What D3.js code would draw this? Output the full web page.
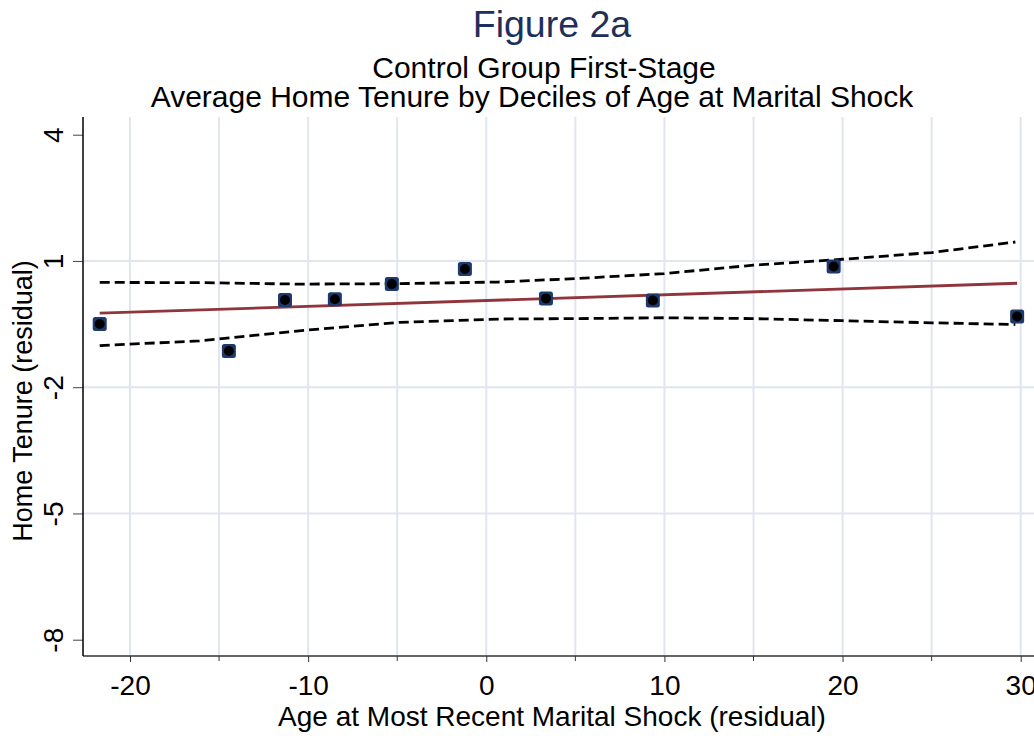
<!DOCTYPE html>
<html>
<head>
<meta charset="utf-8">
<script src="https://cdn.jsdelivr.net/npm/d3@7"></script>
<style>
  body { margin: 0; background: #fff; }
  svg { display: block; font-family: "Liberation Sans", Arial, sans-serif; }
</style>
</head>
<body>
<svg id="chart"></svg>
<script>
// decile bin means
let binX = [-21.7, -14.45, -11.3, -8.5, -5.3, -1.2, 3.35, 9.35, 19.5, 29.8];
let binY = [-0.5, -1.14, 0.07, 0.09, 0.45, 0.81, 0.11, 0.06, 0.87, -0.32];

// linear fit endpoints
let fitX = [-21.7, 29.8];
let fitY = [-0.24, 0.47];

// confidence band
let ciX = [-21.7, -16.1, -10.5, -4.9, 0.7, 5, 10, 15, 20, 25, 29.7];
let ciUpper = [0.49, 0.485, 0.45, 0.46, 0.5, 0.58, 0.70, 0.90, 1.04, 1.20, 1.45];
let ciLower = [-1.01, -0.90, -0.66, -0.46, -0.38, -0.37, -0.35, -0.37, -0.42, -0.47, -0.51];

let xTicks = [-20, -10, 0, 10, 20, 30];
let xMinor = [-15, -5, 5, 15, 25];
let yTicks = [4, 1, -2, -5, -8];
let yGrid = [1, -2, -5];

let width = 1034, height = 736;
let svg = d3.select("#chart").attr("width", width).attr("height", height);

let plotLeft = 83, plotTop = 117, plotBottom = 656;

let x = d3.scaleLinear().domain([-20, 30]).range([130, 1020.7]);
let y = d3.scaleLinear().domain([4, -8]).range([134.7, 639.7]);

// plain hyphen minus like Stata
let fmt = d => String(d);

// gridlines
svg.append("g")
  .selectAll("line")
  .data(xTicks.concat(xMinor))
  .enter().append("line")
  .attr("x1", d => x(d)).attr("x2", d => x(d))
  .attr("y1", plotTop).attr("y2", plotBottom)
  .attr("stroke", "#e1e5ef")
  .attr("stroke-width", 2);

svg.append("g")
  .selectAll("line")
  .data(yGrid)
  .enter().append("line")
  .attr("x1", plotLeft).attr("x2", width)
  .attr("y1", d => y(d)).attr("y2", d => y(d))
  .attr("stroke", "#e1e5ef")
  .attr("stroke-width", 2);

// axes
let xAxis = svg.append("g")
  .attr("transform", `translate(0,${plotBottom})`)
  .call(d3.axisBottom(x).tickValues(xTicks).tickSize(6).tickPadding(13).tickFormat(fmt));
xAxis.append("g").selectAll("line")
  .data(xMinor).enter().append("line")
  .attr("x1", d => x(d)).attr("x2", d => x(d))
  .attr("y1", 0).attr("y2", 5)
  .attr("stroke", "#333");
xAxis.select(".domain").remove();
xAxis.append("line")
  .attr("x1", plotLeft).attr("x2", width)
  .attr("stroke", "#333").attr("stroke-width", 1.5);
xAxis.selectAll(".tick line").attr("stroke", "#333");
xAxis.selectAll(".tick text")
  .attr("font-size", 28)
  .attr("fill", "#000")
  .attr("font-family", "Liberation Sans, Arial, sans-serif");

let yAxis = svg.append("g")
  .attr("transform", `translate(${plotLeft},0)`)
  .call(d3.axisLeft(y).tickValues(yTicks).tickSize(10).tickFormat(fmt));
yAxis.select(".domain").remove();
yAxis.append("line")
  .attr("y1", plotTop).attr("y2", plotBottom)
  .attr("stroke", "#000").attr("stroke-width", 1.5);
yAxis.selectAll(".tick line").attr("stroke", "#444");
yAxis.selectAll(".tick text")
  .attr("font-size", 28)
  .attr("fill", "#000")
  .attr("font-family", "Liberation Sans, Arial, sans-serif")
  .attr("x", null).attr("dy", null)
  .attr("text-anchor", "middle")
  .attr("transform", "translate(-20,0) rotate(-90)");

// confidence band lines
let line = d3.line().x(d => x(d[0])).y(d => y(d[1]));
[ciUpper, ciLower].forEach(band => {
  svg.append("path")
    .datum(ciX.map((v, i) => [v, band[i]]))
    .attr("d", line)
    .attr("fill", "none")
    .attr("stroke", "#000")
    .attr("stroke-width", 2.8)
    .attr("stroke-dasharray", "10,5");
});

// fit line
svg.append("path")
  .datum(fitX.map((v, i) => [v, fitY[i]]))
  .attr("d", line)
  .attr("fill", "none")
  .attr("stroke", "#90353b")
  .attr("stroke-width", 2.8);

// markers
let pts = binX.map((v, i) => ({x: v, y: binY[i]}));
let mk = svg.append("g").selectAll("g")
  .data(pts)
  .enter().append("g")
  .attr("transform", d => `translate(${x(d.x)},${y(d.y)})`);
mk.append("rect")
  .attr("x", -7).attr("y", -7)
  .attr("width", 14).attr("height", 14)
  .attr("rx", 2.5)
  .attr("fill", "#1c3a6e");
mk.append("circle")
  .attr("r", 5)
  .attr("fill", "#000");

// titles
svg.append("text")
  .attr("x", 552).attr("y", 37)
  .attr("text-anchor", "middle")
  .attr("font-size", 37.5)
  .attr("fill", "#1e2f5c")
  .text("Figure 2a");

svg.append("text")
  .attr("x", 544).attr("y", 78)
  .attr("text-anchor", "middle")
  .attr("font-size", 30)
  .attr("fill", "#000")
  .text("Control Group First-Stage");

svg.append("text")
  .attr("x", 532).attr("y", 107)
  .attr("text-anchor", "middle")
  .attr("font-size", 30)
  .attr("fill", "#000")
  .text("Average Home Tenure by Deciles of Age at Marital Shock");

svg.append("text")
  .attr("x", 552).attr("y", 726)
  .attr("text-anchor", "middle")
  .attr("font-size", 28)
  .attr("fill", "#000")
  .text("Age at Most Recent Marital Shock (residual)");

svg.append("text")
  .attr("transform", "translate(32,401) rotate(-90)")
  .attr("text-anchor", "middle")
  .attr("font-size", 27)
  .attr("fill", "#000")
  .text("Home Tenure (residual)");
</script>
</body>
</html>
